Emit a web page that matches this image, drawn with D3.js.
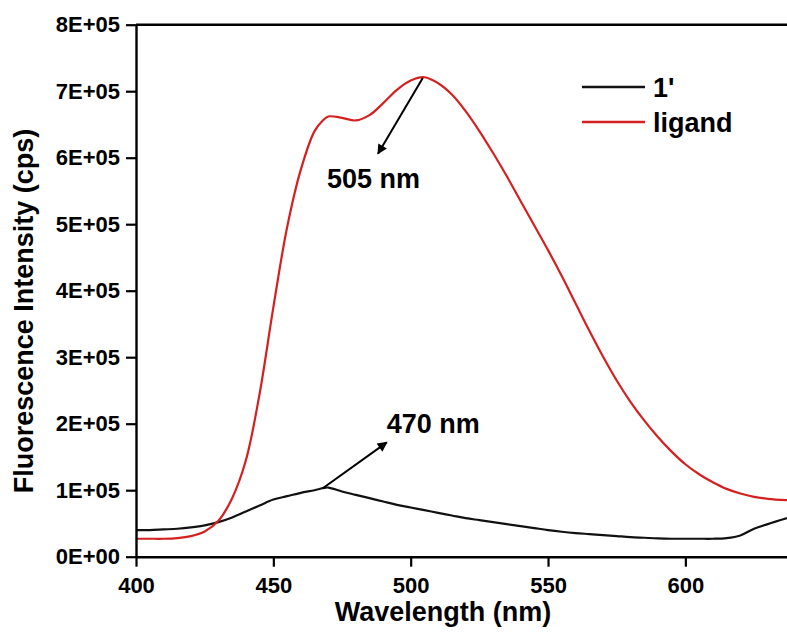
<!DOCTYPE html>
<html>
<head>
<meta charset="utf-8">
<script src="https://cdn.jsdelivr.net/npm/d3@7/dist/d3.min.js"></script>
<style>
  html, body { margin: 0; padding: 0; background: #ffffff; }
  svg { display: block; font-family: "Liberation Sans", Arial, sans-serif; font-weight: bold; }
</style>
</head>
<body>
<svg id="chart" width="787" height="633"></svg>
<script>
// ---------------- data ----------------
const wavelengths = [400,405,410,415,420,425,430,435,440,445,450,455,460,465,468,470,475,480,485,490,495,500,505,510,515,520,525,530,535,540,545,550,555,560,565,570,575,580,585,590,595,600,605,610,615,620,625,630,637];

const ligand = [27000,27000,27000,28000,31000,38000,54000,88000,145000,245000,375000,495000,582000,640000,656000,662000,660000,656000,664000,682000,702000,716000,721000,712000,695000,670000,640000,607000,572000,535000,498000,461000,422000,381000,340000,301000,265000,233000,205000,180000,158000,139000,124000,112000,102000,95000,90000,87000,85000];

const compound1 = [40000,40000,41000,42000,44000,47000,52000,59000,68000,77000,86000,91000,96000,100000,103000,104000,98000,93000,88000,83000,78000,74000,70000,66000,62000,58000,55000,52000,49000,46000,43000,40000,37500,35500,34000,32500,31000,29500,28500,27500,27000,27000,27000,27000,28000,32000,42000,49000,58000];

const seriesNames = ["1'", "ligand"];
const seriesColors = ["#111111", "#d42020"];

const xTicks = [400, 450, 500, 550, 600];
const yTicks = [0, 100000, 200000, 300000, 400000, 500000, 600000, 700000, 800000];
const yTickLabels = ["0E+00","1E+05","2E+05","3E+05","4E+05","5E+05","6E+05","7E+05","8E+05"];

const xTitle = "Wavelength (nm)";
const yTitle = "Fluorescence Intensity (cps)";

// annotations: text, text anchor point (data), arrow start (data), arrow end (data)
const annotLabels = ["505 nm", "470 nm"];
const annotTextPos = [[469.5, 554000], [491.3, 186000]];
const annotArrowFrom = [[504.4, 720000], [468.0, 103000]];
const annotArrowTo = [[488.1, 606000], [491.3, 172000]];

// ---------------- layout ----------------
const svg = d3.select("#chart");
const mLeft = 136, mRight = 787, mTop = 24.7, mBottom = 556.7;

const x = d3.scaleLinear().domain([400, 637]).range([mLeft, mRight]);
const y = d3.scaleLinear().domain([0, 800000]).range([mBottom, mTop]);

const defs = svg.append("defs");
defs.append("marker")
  .attr("id", "arrow")
  .attr("viewBox", "0 0 10 10")
  .attr("refX", 9).attr("refY", 5)
  .attr("markerWidth", 7).attr("markerHeight", 5)
  .attr("markerUnits", "strokeWidth")
  .attr("orient", "auto")
  .append("path").attr("d", "M0,0 L10,5 L0,10 z").attr("fill", "#000");

defs.append("clipPath").attr("id", "clip")
  .append("rect").attr("x", mLeft).attr("y", mTop).attr("width", mRight - mLeft).attr("height", mBottom - mTop);

// lines
const line = d3.line().x((d, i) => x(wavelengths[i])).y(d => y(d)).curve(d3.curveCatmullRom.alpha(0.5));
const g = svg.append("g").attr("clip-path", "url(#clip)");
g.append("path").datum(compound1).attr("d", line)
  .attr("fill", "none").attr("stroke", seriesColors[0]).attr("stroke-width", 2.2);
g.append("path").datum(ligand).attr("d", line)
  .attr("fill", "none").attr("stroke", seriesColors[1]).attr("stroke-width", 2.2);

// axes
const xAxis = d3.axisBottom(x).tickValues(xTicks).tickSize(10).tickSizeOuter(0).tickPadding(6);
const yAxis = d3.axisLeft(y).tickValues(yTicks).tickSize(10).tickSizeOuter(0).tickPadding(6)
  .tickFormat((d, i) => yTickLabels[i]);

const gx = svg.append("g").attr("transform", `translate(0,${mBottom})`).call(xAxis);
const gy = svg.append("g").attr("transform", `translate(${mLeft},0)`).call(yAxis);
[gx, gy].forEach(a => {
  a.select(".domain").attr("stroke", "#000").attr("stroke-width", 2.4);
  a.selectAll(".tick line").attr("stroke", "#000").attr("stroke-width", 2.2);
  a.selectAll(".tick text").attr("fill", "#000")
    .style("font-family", "'Liberation Sans', Arial, sans-serif")
    .style("font-weight", "bold").style("font-size", "22px");
});
gx.selectAll(".tick text").attr("dy", "0.92em");

// top frame line
svg.append("line").attr("x1", mLeft).attr("x2", mRight).attr("y1", mTop).attr("y2", mTop)
  .attr("stroke", "#000").attr("stroke-width", 2.4);

// axis titles
svg.append("text").attr("x", 443).attr("y", 621).attr("text-anchor", "middle")
  .style("font-size", "27px").text(xTitle);
svg.append("text").attr("transform", `translate(33,311) rotate(-90)`).attr("text-anchor", "middle")
  .style("font-size", "27px").text(yTitle);

// legend
const legY = [87, 122];
seriesNames.forEach((name, i) => {
  svg.append("line").attr("x1", 582).attr("x2", 645).attr("y1", legY[i]).attr("y2", legY[i])
    .attr("stroke", seriesColors[i]).attr("stroke-width", 2.4);
  svg.append("text").attr("x", 653).attr("y", legY[i] + 9.5)
    .style("font-size", "27px").text(name);
});

// annotations
annotLabels.forEach((t, i) => {
  svg.append("text").attr("x", x(annotTextPos[i][0])).attr("y", y(annotTextPos[i][1]))
    .style("font-size", "27px").text(t);
  svg.append("line")
    .attr("x1", x(annotArrowFrom[i][0])).attr("y1", y(annotArrowFrom[i][1]))
    .attr("x2", x(annotArrowTo[i][0])).attr("y2", y(annotArrowTo[i][1]))
    .attr("stroke", "#000").attr("stroke-width", 2).attr("marker-end", "url(#arrow)");
});
</script>
</body>
</html>
